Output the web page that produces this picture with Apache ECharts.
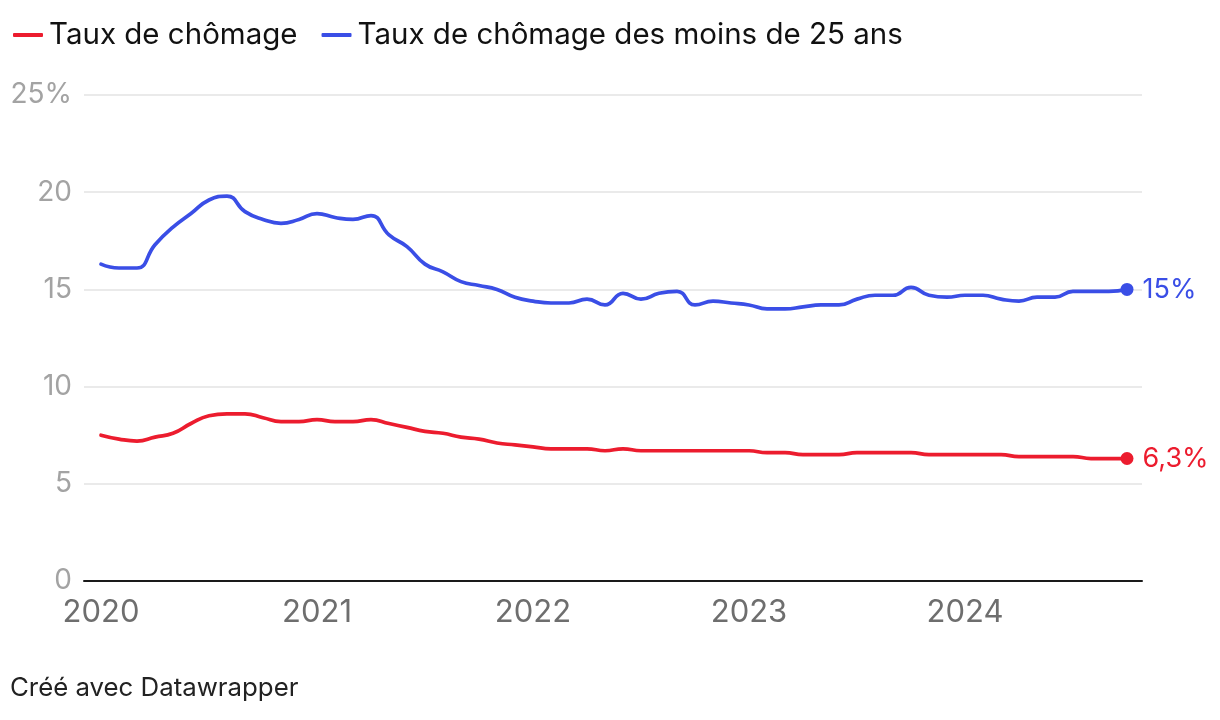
<!DOCTYPE html>
<html>
<head>
<meta charset="utf-8">
<script src="https://cdn.jsdelivr.net/npm/echarts@6/dist/echarts.min.js"></script>
<style>
  html, body { margin: 0; padding: 0; background: #fff; }
  #chart { width: 1220px; height: 720px; }
</style>
</head>
<body>
<div id="chart"></div>
<script>
// Monthly data, January 2020 to October 2024
const startYear = 2020;
const monthCount = 58;
const yearTicks = [2020, 2021, 2022, 2023, 2024];
const yTicks = [0, 5, 10, 15, 20, 25];

const tauxChomage = [
  7.5, 7.3, 7.2, 7.4, 7.6, 8.1, 8.5, 8.6, 8.6, 8.4, 8.2, 8.2,
  8.3, 8.2, 8.2, 8.3, 8.1, 7.9, 7.7, 7.6, 7.4, 7.3, 7.1, 7.0,
  6.9, 6.8, 6.8, 6.8, 6.7, 6.8, 6.7, 6.7, 6.7, 6.7, 6.7, 6.7,
  6.7, 6.6, 6.6, 6.5, 6.5, 6.5, 6.6, 6.6, 6.6, 6.6, 6.5, 6.5,
  6.5, 6.5, 6.5, 6.4, 6.4, 6.4, 6.4, 6.3, 6.3, 6.3
];
const tauxJeunes = [
  16.3, 16.1, 16.1, 17.3, 18.2, 18.9, 19.6, 19.8, 19.0, 18.6, 18.4, 18.6,
  18.9, 18.7, 18.6, 18.8, 17.8, 17.2, 16.3, 15.9, 15.4, 15.2, 15.0, 14.6,
  14.4, 14.3, 14.3, 14.5, 14.2, 14.8, 14.5, 14.8, 14.9, 14.2, 14.4, 14.3,
  14.2, 14.0, 14.0, 14.1, 14.2, 14.2, 14.5, 14.7, 14.7, 15.1, 14.7, 14.6,
  14.7, 14.7, 14.5, 14.4, 14.6, 14.6, 14.9, 14.9, 14.9, 15.0
];
const seriesNames = ['Taux de chômage', 'Taux de chômage des moins de 25 ans'];
const endLabels = ['6,3%', '15%'];
const colors = ['#ec1c2e', '#3a4ee6'];

const xs = Array.from({length: monthCount}, (_, i) => startYear + i / 12);
const toPairs = arr => arr.map((v, i) => [xs[i], v]);
const FONT = 'Inter, "Noto Sans", sans-serif';

const chart = echarts.init(document.getElementById('chart'), null, {renderer: 'canvas'});

function endSeries(arr, idx) {
  const last = arr.length - 1;
  return {
    type: 'scatter',
    data: [[xs[last], arr[last]]],
    symbol: 'circle',
    symbolSize: 13,
    itemStyle: { color: colors[idx], opacity: 1 },
    silent: true,
    z: 5,
    label: {
      show: true,
      position: 'right',
      distance: 9,
      formatter: endLabels[idx],
      color: colors[idx],
      fontFamily: FONT,
      fontSize: 27,
      fontWeight: 400
    }
  };
}

function lineSeries(arr, idx) {
  return {
    name: seriesNames[idx],
    type: 'line',
    data: toPairs(arr),
    smooth: 0.5,
    showSymbol: false,
    lineStyle: { width: 3.7, color: colors[idx], cap: 'round', join: 'round' },
    itemStyle: { color: colors[idx] },
    z: 3
  };
}

chart.setOption({
  animation: false,
  backgroundColor: '#ffffff',
  color: colors,
  legend: {
    left: 8,
    top: 15,
    itemWidth: 30,
    itemHeight: 4,
    itemGap: 24,
    icon: 'roundRect',
    textStyle: { fontFamily: FONT, fontSize: 29.5, color: '#111', padding: [0, 0, 0, 1] },
    data: seriesNames
  },
  grid: { left: 84, right: 78, top: 95, bottom: 139, containLabel: false },
  xAxis: {
    type: 'value',
    min: 2020 - 17 / 216,
    max: 2020 + 1041 / 216,
    axisLine: { show: true, onZero: false, lineStyle: { color: '#1a1a1a', width: 2 } },
    axisTick: { show: false },
    splitLine: { show: false },
    axisLabel: {
      customValues: yearTicks,
      formatter: v => String(v),
      fontFamily: FONT,
      fontSize: 31,
      color: '#6e6e6e',
      margin: 16
    }
  },
  yAxis: {
    type: 'value',
    min: 0,
    max: 25,
    interval: 5,
    axisLine: { show: false },
    axisTick: { show: false },
    splitLine: { show: true, lineStyle: { color: '#e3e3e3', width: 1.5 } },
    axisLabel: {
      formatter: v => (v === 25 ? '25%' : String(v)),
      fontFamily: FONT,
      fontSize: 28,
      color: '#a3a3a3',
      margin: 12
    }
  },
  graphic: [{
    type: 'text',
    left: 10,
    top: 675,
    style: { text: 'Créé avec Datawrapper', fontFamily: FONT, fontSize: 25.8, fill: '#222' }
  }],
  series: [
    lineSeries(tauxChomage, 0),
    lineSeries(tauxJeunes, 1),
    endSeries(tauxChomage, 0),
    endSeries(tauxJeunes, 1)
  ]
});
</script>
</body>
</html>
